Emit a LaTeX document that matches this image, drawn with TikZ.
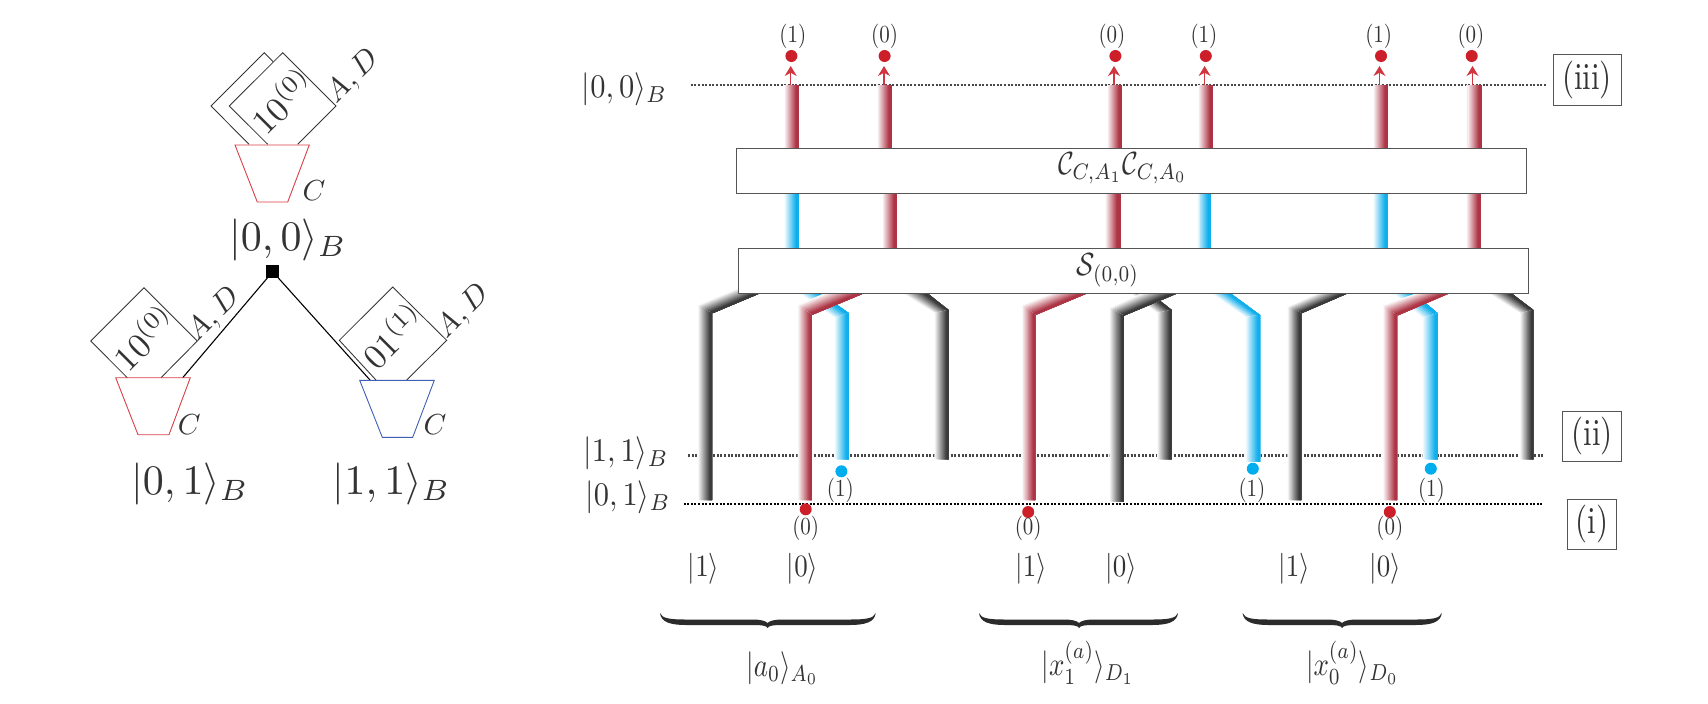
\documentclass[tikz,border=0pt]{standalone}
\usepackage{amsmath}
\usetikzlibrary{calc,arrows.meta}

\definecolor{ink}{HTML}{333333}
\definecolor{framegray}{HTML}{555555}
\definecolor{redbeam}{HTML}{AC3444}
\definecolor{bluebeam}{HTML}{0FAEEC}
\definecolor{blackbeam}{HTML}{3A3A3A}
\definecolor{reddot}{HTML}{CC1F2A}
\definecolor{bluedot}{HTML}{00AEEF}
\definecolor{cupred}{HTML}{D63F47}
\definecolor{cupblue}{HTML}{3F5FB5}

% A gradient strip: (#2)--(#3) is the pale edge, (#4)--(#5) the saturated edge.
% Each layer runs through to the far edge so that no seams show between layers.
\newcommand{\band}[5]{%
  \foreach \t in {0,0.07,...,0.99}{%
    \pgfmathsetmacro{\p}{min(100,2+98*\t/0.82)}%
    \fill[#1!\p!white] ($#2!\t!#4$) -- ($#3!\t!#5$) -- #5 -- #4 -- cycle;
  }%
}
% Vertical beam: colour, left x, right x, top of left edge, top of right edge, bottom
\newcommand{\vbeam}[6]{\band{#1}{(#2,#4)}{(#2,#6)}{(#3,#5)}{(#3,#6)}}

% Under-brace from x=#1 to x=#3 with its point at x=#2
\newcommand{\ubrace}[3]{%
  \fill[ink!85!black]
    (#1,613) .. controls ({#1+2},618.5) and ({#1+10},619.5) .. ({#1+26},619.5)
    -- ({#2-16},619.5) .. controls ({#2-6},619.5) and ({#2-2},621) .. (#2,623)
    .. controls ({#2+2},621) and ({#2+6},619.5) .. ({#2+16},619.5)
    -- ({#3-26},619.5) .. controls ({#3-10},619.5) and ({#3-2},618.5) .. (#3,613)
    .. controls ({#3-1},622) and ({#3-10},625) .. ({#3-26},625)
    -- ({#2+16},625) .. controls ({#2+6},625) and ({#2+1},625.5) .. (#2,628)
    .. controls ({#2-1},625.5) and ({#2-6},625) .. ({#2-16},625)
    -- ({#1+26},625) .. controls ({#1+10},625) and ({#1+1},622) .. (#1,613) -- cycle;
}

\tikzset{
  txt/.style={text=ink,inner sep=0pt,outer sep=0pt},
  bit/.style={txt,xscale=2.1,yscale=2.45},
  ket/.style={txt,xscale=2.7,yscale=3.1},
  bigket/.style={txt,scale=4.2},
  regket/.style={txt,xscale=3.05,yscale=3.3},
  reglabel/.style={txt,xscale=2.7,yscale=3.3},
  oplabel/.style={txt,xscale=2.7,yscale=3.2},
  slanted/.style={txt,rotate=45},
  opbox/.style={draw=framegray,line width=0.9pt,fill=white,text=ink,inner sep=0pt,outer sep=0pt},
  tagbox/.style={draw=framegray,line width=0.8pt,text=ink,inner sep=0pt,outer sep=0pt},
  rdot/.style={circle,fill=reddot,minimum size=12pt,inner sep=0pt},
  bdot/.style={circle,fill=bluedot,minimum size=12pt,inner sep=0pt},
  levelline/.style={line width=2.5pt,ink!90,dash pattern=on 2pt off 1.6pt},
  uparrow/.style={draw=reddot!90!white,line width=1.2pt,-{Stealth[length=10pt,width=12pt]}},
  qubit/.style={line width=0.85pt,draw=ink},
  branch/.style={line width=1.1pt,black},
}

\begin{document}
\begin{tikzpicture}[x=1pt,y=-1pt]
\useasboundingbox (0,0) rectangle (1708,704);

% ---------- decision tree ----------
% root state: two stacked registers on a red cup
\draw[qubit] (249,144.3) -- (211,106) -- (264.3,52.7) -- (273,61.5);
\draw[qubit] (267.7,144.3) -- (229.3,106) -- (282.7,52.7) -- (336,106) -- (297.7,144.3);
\draw[cupred,line width=0.9pt] (235,145) -- (309.3,145) -- (287.7,202) -- (257.3,202) -- cycle;
\node[slanted,scale=3.5] (regroot) at (281.5,100) {$10^{(0)}$};
\node[slanted,scale=3.05] (adroot) at (353,76.7) {$A,D$};
\node[txt,scale=2.9] (croot) at (314,191) {$C$};
\node[bigket] (ketroot) at (288,239.5) {$|0,0\rangle_B$};

\node[fill=black,minimum size=13pt,inner sep=0pt] (root) at (272.7,271.7) {};
\coordinate (cupleft) at (182.7,377.7);
\coordinate (cupright) at (370,380);
\draw[branch] (root.center) -- (cupleft);
\draw[branch] (root.center) -- (cupright);

% left child
\draw[qubit] (127.3,377.7) -- (90.7,341) -- (144,287.7) -- (197.3,341) -- (161,377.7);
\draw[cupred,line width=0.9pt] (115.7,377.7) -- (190.3,377.7) -- (169,434.7) -- (138,434.7) -- cycle;
\node[slanted,scale=3.5] (regleft) at (143.3,336.7) {$10^{(0)}$};
\node[slanted,scale=3.05] (adleft) at (214,315) {$A,D$};
\node[txt,scale=2.9] (cleft) at (189.3,424.3) {$C$};
\node[bigket] (ketleft) at (190,484) {$|0,1\rangle_B$};

% right child
\draw[qubit] (376,380) -- (339.3,340.3) -- (392.7,287) -- (446.7,340.3) -- (406.7,380);
\draw[cupblue,line width=0.9pt] (359.7,380.3) -- (434.3,380.3) -- (412.7,437.3) -- (382.3,437.3) -- cycle;
\node[slanted,scale=3.5] (regright) at (391.7,335) {$01^{(1)}$};
\node[slanted,scale=3.05] (adright) at (463.3,311.7) {$A,D$};
\node[txt,scale=2.9] (cright) at (435,425) {$C$};
\node[bigket] (ketright) at (391.7,484) {$|1,1\rangle_B$};

% ---------- level lines ----------
\coordinate (l3a) at (690.7,85);   \coordinate (l3b) at (1546.4,85);
\coordinate (l2a) at (687.9,455.7); \coordinate (l2b) at (1543.7,455.7);
\coordinate (l1a) at (683.6,504);  \coordinate (l1b) at (1543,504);
\draw[levelline] (l3a) -- (l3b);
\draw[levelline] (l2a) -- (l2b);
\draw[levelline,black] (l1a) -- (l1b);

\node[regket] (ket00) at (624.5,89.5) {$|0,0\rangle_B$};
\node[regket] (ket11) at (626,453) {$|1,1\rangle_B$};
\node[regket] (ket01) at (628,497.5) {$|0,1\rangle_B$};

% ---------- beams above the operators ----------
\vbeam{redbeam}{783.6}{797.9}{85}{85}{148}
\vbeam{redbeam}{877}{891.4}{85}{85}{148}
\vbeam{redbeam}{1107}{1121.7}{85}{85}{148}
\vbeam{redbeam}{1198}{1212.6}{85}{85}{148}
\vbeam{redbeam}{1372.6}{1387.5}{85}{85}{148}
\vbeam{redbeam}{1466.4}{1481.3}{85}{85}{148}

\vbeam{bluebeam}{784}{798}{193}{193}{249}
\vbeam{redbeam}{882.5}{896.4}{193}{193}{249}
\vbeam{redbeam}{1104.7}{1119.8}{193}{193}{249}
\vbeam{bluebeam}{1196.6}{1210.4}{193}{193}{249}
\vbeam{bluebeam}{1373}{1387.5}{193}{193}{249}
\vbeam{redbeam}{1466}{1480.5}{193}{193}{249}

% ---------- split beams below the operators ----------
% blue and falling black branches lie underneath the rising ones
\band{blackbeam}{(934.3,313)}{(902,293)}{(948.6,310)}{(927,293)}
\vbeam{blackbeam}{934.3}{948.6}{313}{310}{459.3}
\band{blackbeam}{(1157,313)}{(1130,293)}{(1171.7,310)}{(1150,293)}
\vbeam{blackbeam}{1157}{1171.7}{313}{310}{459.3}
\band{blackbeam}{(1520,313.3)}{(1488,293)}{(1533.3,310)}{(1511,293)}
\vbeam{blackbeam}{1520}{1533.3}{313.3}{310}{459.3}

\band{bluebeam}{(834.3,318)}{(798.6,293)}{(848.6,313)}{(820,293)}
\vbeam{bluebeam}{834.3}{848.6}{318}{313}{459.3}
\band{bluebeam}{(1245,317)}{(1210.7,293)}{(1260,315)}{(1230,293)}
\vbeam{bluebeam}{1245.2}{1260}{317}{315}{461.7}
\band{bluebeam}{(1422.4,318)}{(1392.5,293)}{(1437.7,313.3)}{(1413.5,293)}
\vbeam{bluebeam}{1422.4}{1437.7}{318}{313.3}{459.3}

\band{blackbeam}{(697.9,305)}{(760,279)}{(712,313.5)}{(775,287)}
\vbeam{blackbeam}{697.9}{712}{305}{313.5}{500}
\band{blackbeam}{(1109.3,308)}{(1142,293)}{(1123.9,315.7)}{(1178.2,293)}
\vbeam{blackbeam}{1109.3}{1123.9}{308}{315.7}{501.7}
\band{blackbeam}{(1287.3,306.7)}{(1318,293)}{(1301.4,313.3)}{(1348.5,293)}
\vbeam{blackbeam}{1287.3}{1301.4}{306.7}{313.3}{500}

\band{redbeam}{(797.5,305)}{(825,293)}{(811.8,315)}{(864.6,293)}
\vbeam{redbeam}{797.5}{811.8}{305}{315}{500}
\band{redbeam}{(1021.8,305)}{(1052,293)}{(1035.4,315)}{(1087.9,293)}
\vbeam{redbeam}{1021.8}{1035.4}{305}{315}{500}
\band{redbeam}{(1383,305)}{(1417,293)}{(1397,315.7)}{(1450,293)}
\vbeam{redbeam}{1383}{1397}{305}{315.7}{500}

% ---------- operators ----------
\node[opbox,minimum width=790pt,minimum height=45.3pt] (opC) at (1131.4,170.7) {};
\node[oplabel] (opClabel) at (1122.5,168) {$\mathcal{C}_{C,A_1}\mathcal{C}_{C,A_0}$};
\node[opbox,minimum width=790.7pt,minimum height=45pt] (opS) at (1133.3,271.2) {};
\node[oplabel] (opSlabel) at (1108,270.5) {$\mathcal{S}_{(0,0)}$};

% ---------- outcomes at the top ----------
\foreach \n/\dx/\ax/\lx/\lab in {
    a/791.4/790.7/792.9/1, b/884.6/884/884.6/0, c/1115.4/1114/1112/0,
    d/1205.8/1204.6/1204/1, e/1381/1379.5/1378.7/1, f/1471.7/1472.5/1471/0}{
  \node[rdot] (top\n) at (\dx,56) {};
  \node[bit] (toplab\n) at (\lx,36) {$(\lab)$};
  \coordinate (foot\n) at (\ax,85);
  \coordinate (tip\n) at (\ax,66);
  \draw[uparrow] (foot\n) -- (tip\n);
}

% ---------- outcomes at the lower levels ----------
\node[rdot] (ra) at (805.7,509.3) {};
\node[rdot] (rb) at (1028.2,512) {};
\node[rdot] (rc) at (1389.8,512) {};
\node[bit] (rala) at (805.7,528.3) {$(0)$};
\node[bit] (rblb) at (1028.2,528.3) {$(0)$};
\node[bit] (rclc) at (1389.8,528.3) {$(0)$};
\node[bdot] (ba) at (841.4,471.3) {};
\node[bdot] (bb) at (1252.8,468.7) {};
\node[bdot] (bc) at (1430.8,468.7) {};
\node[bit] (bala) at (840.4,490) {$(1)$};
\node[bit] (bblb) at (1252,490) {$(1)$};
\node[bit] (bclc) at (1431.5,490) {$(1)$};

% ---------- step tags ----------
\node[tagbox,minimum width=68pt,minimum height=51pt] (tagiii) at (1587,79.6) {\scalebox{3.1}[3.8]{(iii)}};
\node[tagbox,minimum width=58.6pt,minimum height=50.3pt] (tagii) at (1592.1,436.2) {\scalebox{3.1}[3.8]{(ii)}};
\node[tagbox,minimum width=49pt,minimum height=50.3pt] (tagi) at (1591.9,524.2) {\scalebox{3.1}[3.8]{(i)}};

% ---------- input kets and registers ----------
\node[ket] (k1) at (703.5,568.5) {$|1\rangle$};
\node[ket] (k2) at (802.6,568.5) {$|0\rangle$};
\node[ket] (k3) at (1031,568.5) {$|1\rangle$};
\node[ket] (k4) at (1121,568.5) {$|0\rangle$};
\node[ket] (k5) at (1294,568.5) {$|1\rangle$};
\node[ket] (k6) at (1385,568.5) {$|0\rangle$};

\ubrace{660}{767.5}{875.7}
\ubrace{979}{1079}{1178}
\ubrace{1242.6}{1342}{1441.8}

\node[reglabel] (rega) at (782.5,668) {$|a_0\rangle_{A_0}$};
\node[reglabel] (regx1) at (1088,663) {$|x_1^{(a)}\rangle_{D_1}$};
\node[reglabel] (regx0) at (1352.5,663) {$|x_0^{(a)}\rangle_{D_0}$};
\end{tikzpicture}
\end{document}
